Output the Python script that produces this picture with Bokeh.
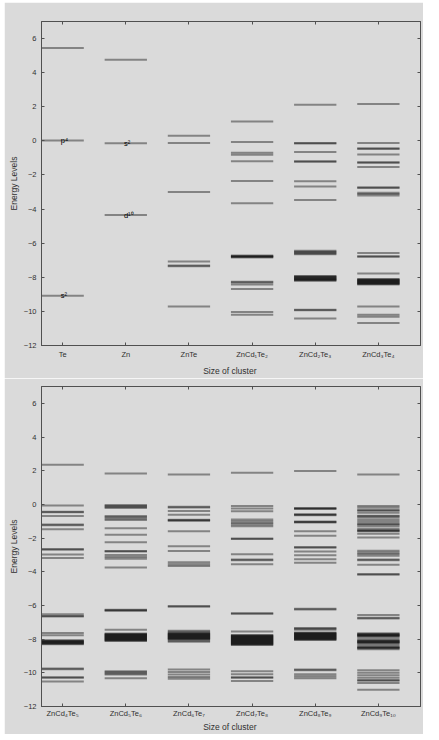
from bokeh.plotting import figure
from bokeh.models import ColumnDataSource, FixedTicker, LinearAxis, Range1d
from bokeh.layouts import column
from bokeh.embed import file_html
from bokeh.resources import INLINE

# ---------------- data ----------------
top_labels = ["Te", "Zn", "ZnTe", "ZnCd₁Te₂", "ZnCd₂Te₃", "ZnCd₃Te₄"]
bottom_labels = ["ZnCd₄Te₅", "ZnCd₅Te₆", "ZnCd₆Te₇", "ZnCd₇Te₈", "ZnCd₈Te₉", "ZnCd₉Te₁₀"]

te = [5.45, 0.02, -9.08]
zn = [4.75, -0.14, -4.35]
znte = [0.3, -0.12, -3.0, -7.08, -7.31, -7.35, -9.72]
zncd1te2 = [1.14, -0.06, -0.7, -0.82, -1.19, -2.35, -3.66,
            -6.72, -6.75, -6.78, -6.81, -6.84,
            -8.26, -8.3, -8.42, -8.68, -10.04, -10.19]
zncd2te3 = [2.12, -0.12, -0.16, -0.66, -1.19, -1.23, -2.37, -2.68, -3.47,
            -6.45, -6.5, -6.55, -6.6, -6.65,
            -7.93, -7.96, -7.99, -8.02, -8.05, -8.08, -8.11, -8.14, -8.17, -8.2,
            -9.9, -9.94, -10.41]
zncd3te4 = [2.16, -0.12, -0.43, -0.47, -0.8, -1.25, -1.29, -1.53, -2.72, -2.76,
            -3.04, -3.12, -3.2, -6.57, -6.76, -6.8, -7.78,
            -8.1, -8.13, -8.16, -8.19, -8.22, -8.25, -8.28, -8.31, -8.34, -8.37, -8.4, -8.43,
            -9.72, -10.19, -10.31, -10.68]

zncd4te5 = [2.35, -0.06, -0.43, -0.47, -0.69, -1.2, -1.24, -1.47, -2.65, -2.69, -2.98, -3.19,
            -6.52, -6.62, -6.66, -7.64, -7.77,
            -8.06, -8.09, -8.12, -8.15, -8.18, -8.21, -8.24, -8.27, -8.3,
            -9.75, -9.79, -10.26, -10.3, -10.51]
zncd5te6 = [1.84, -0.04, -0.1, -0.16, -0.22, -0.69, -0.76, -0.84, -0.92, -1.41, -1.8, -2.25,
            -2.76, -2.8, -3.0, -3.12, -3.23, -3.74, -6.26, -6.29, -6.32, -7.44,
            -7.66, -7.69, -7.72, -7.75, -7.78, -7.81, -7.84, -7.87, -7.9, -7.93, -7.96, -7.99,
            -8.02, -8.05, -8.08, -8.11,
            -9.9, -9.96, -10.04, -10.1, -10.32]
zncd6te7 = [1.78, -0.14, -0.18, -0.39, -0.61, -0.91, -0.94, -0.97, -1.59, -2.49, -2.76,
            -3.43, -3.55, -3.66, -6.03, -6.07, -7.5, -7.56,
            -7.63, -7.66, -7.69, -7.72, -7.75, -7.78, -7.81, -7.84, -7.87, -7.9, -7.93, -7.96,
            -7.99, -8.02, -8.1, -8.15,
            -9.8, -9.95, -10.1, -10.25, -10.35]
zncd7te8 = [1.88, -0.1, -0.25, -0.4, -0.9, -1.0, -1.1, -1.2, -1.3, -2.02, -2.06, -2.96, -3.27,
            -3.31, -3.56, -6.46, -6.5, -7.54,
            -7.75, -7.78, -7.81, -7.84, -7.87, -7.9, -7.93, -7.96, -7.99, -8.02, -8.05, -8.08,
            -8.11, -8.14, -8.17, -8.2, -8.23, -8.26, -8.29, -8.32, -8.35,
            -9.9, -10.08, -10.26, -10.3, -10.48]
zncd8te9 = [1.99, -0.22, -0.25, -0.28, -0.58, -0.61, -0.64, -1.01, -1.04, -1.07, -1.59, -1.86,
            -2.53, -2.57, -2.8, -3.02, -3.25, -3.47, -6.2, -6.24, -7.34, -7.39, -7.44,
            -7.6, -7.63, -7.66, -7.69, -7.72, -7.75, -7.78, -7.81, -7.84, -7.87, -7.9, -7.93,
            -7.96, -7.99, -8.02, -8.05,
            -9.81, -9.85, -10.08, -10.2, -10.32]
zncd9te10 = [1.78, -0.1, -0.2, -0.33, -0.37, -0.5, -0.67, -0.71, -0.8, -0.92, -1.05, -1.16,
             -1.2, -1.3, -1.45, -1.54, -1.57, -1.6, -1.75, -1.96, -2.75, -2.85, -2.95, -3.05,
             -3.27, -3.31, -3.58, -4.13, -4.17, -6.56, -6.73, -6.77,
             -7.65, -7.7, -7.73, -7.76, -7.79, -7.82, -7.85, -7.95,
             -8.05, -8.1, -8.13, -8.16, -8.19, -8.22, -8.25, -8.35,
             -8.45, -8.48, -8.51, -8.54, -8.6,
             -9.85, -10.0, -10.15, -10.3, -10.43, -10.47, -10.6, -11.0]

top_levels = [te, zn, znte, zncd1te2, zncd2te3, zncd3te4]
bottom_levels = [zncd4te5, zncd5te6, zncd6te7, zncd7te8, zncd8te9, zncd9te10]

# orbital annotations (column index, energy, text)
orb_col = [1, 1, 2, 2]
orb_energy = [0.02, -9.08, -0.14, -4.35]
orb_text = ["p⁴", "s²", "s²", "d¹⁰"]

y_ticks = [-12, -10, -8, -6, -4, -2, 0, 2, 4, 6]

# ---------------- style ----------------
BG = "#dadada"
AX = "#505050"
TXT = "#303030"
FONT = "Liberation Sans"
HALF = 0.335


def make_panel(labels, levels, top_border, frame_h, bottom_border,
               tick_standoff, label_standoff, annotate=False):
    p = figure(frame_width=379, frame_height=frame_h,
               x_range=Range1d(1 - HALF, 6 + 0.667), y_range=Range1d(-12, 7),
               output_backend="svg", toolbar_location=None,
               min_border_left=37, min_border_right=3,
               min_border_top=top_border, min_border_bottom=bottom_border,
               background_fill_color=BG, border_fill_color=BG)
    p.grid.visible = False
    p.outline_line_color = AX
    p.outline_line_width = 1

    xs0, xs1, ys = [], [], []
    for i, lv in enumerate(levels):
        for e in lv:
            xs0.append(i + 1 - HALF)
            xs1.append(i + 1 + HALF)
            ys.append(e)
    src = ColumnDataSource(dict(x0=xs0, x1=xs1, y=ys))
    p.segment(x0="x0", y0="y", x1="x1", y1="y", source=src,
              line_color="black", line_alpha=0.4, line_width=2)

    if annotate:
        xo = [c - 0.03 for c in orb_col]
        asrc = ColumnDataSource(dict(x=xo, y=orb_energy, t=orb_text))
        p.text(x="x", y="y", text="t", source=asrc, text_font_size="7.5px",
               text_color="black", text_align="left", text_baseline="middle",
               text_font={"value": FONT})

    xt = FixedTicker(ticks=[1, 2, 3, 4, 5, 6])
    yt = FixedTicker(ticks=y_ticks)

    p.xaxis.ticker = xt
    p.xaxis.major_label_overrides = {i + 1: lab for i, lab in enumerate(labels)}
    p.xaxis.axis_label = "Size of  cluster"
    p.xaxis.major_label_standoff = tick_standoff
    p.xaxis.axis_label_standoff = label_standoff

    p.yaxis.ticker = yt
    p.yaxis.axis_label = "Energy Levels"
    p.yaxis.major_label_standoff = 5
    p.yaxis.axis_label_standoff = 2

    for ax in (p.xaxis[0], p.yaxis[0]):
        ax.major_tick_in = 3
        ax.major_tick_out = 0
        ax.minor_tick_line_color = None
        ax.axis_line_color = AX
        ax.major_tick_line_color = AX
        ax.major_label_text_font = FONT
        ax.major_label_text_font_size = "7.5px"
        ax.major_label_text_color = TXT
        ax.axis_label_text_font = FONT
        ax.axis_label_text_font_size = "8.5px"
        ax.axis_label_text_font_style = "normal"
        ax.axis_label_text_color = TXT

    top_ax = LinearAxis(ticker=FixedTicker(ticks=[1, 2, 3, 4, 5, 6]))
    right_ax = LinearAxis(ticker=FixedTicker(ticks=y_ticks))
    for ax in (top_ax, right_ax):
        ax.major_tick_in = 3
        ax.major_tick_out = 0
        ax.minor_tick_line_color = None
        ax.axis_line_color = AX
        ax.major_tick_line_color = AX
        ax.major_label_text_font_size = "0px"
        ax.major_label_standoff = 0
    top_ax.major_label_overrides = {i: "" for i in [1, 2, 3, 4, 5, 6]}
    right_ax.major_label_overrides = {i: "" for i in y_ticks}
    p.add_layout(top_ax, "above")
    p.add_layout(right_ax, "right")
    return p


p1 = make_panel(top_labels, top_levels, 19, 324, 33, 4, 4, annotate=True)
p2 = make_panel(bottom_labels, bottom_levels, 8, 320, 20, 2, 1)

layout = column(p1, p2, spacing=0, margin=(2, 0, 0, 4))

open("out.html", "w").write(file_html(layout, INLINE))
